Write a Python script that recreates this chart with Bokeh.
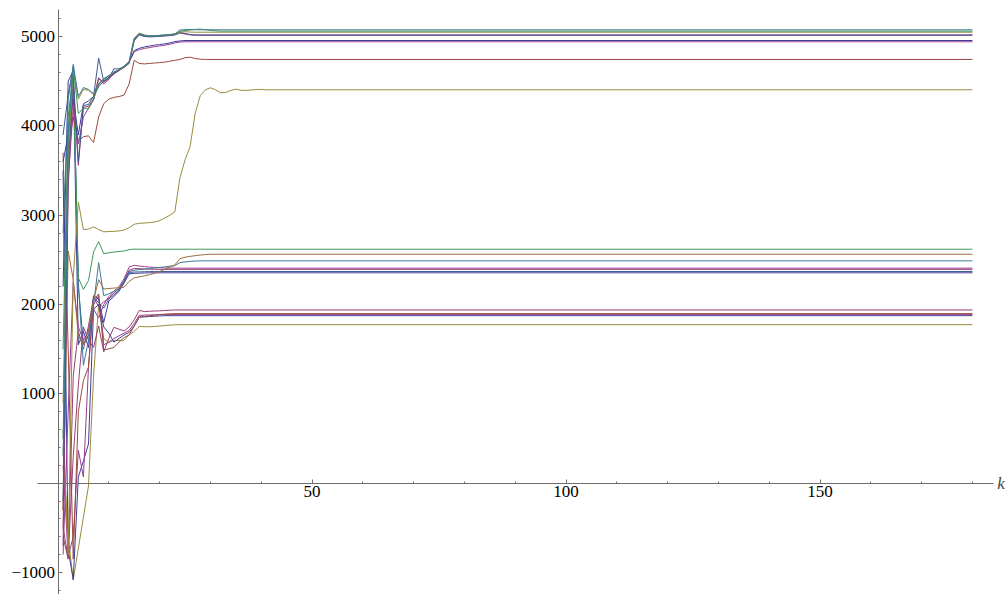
from bokeh.plotting import figure
from bokeh.models import FixedTicker, Label, Range1d
from bokeh.embed import file_html
from bokeh.resources import INLINE

# ---- data: values at k = 1, 2, 3, ... until the series is flat; held flat to K_LAST
K_LAST = 180

top_teal = [300, 3950, 4690, 4330, 4430, 4410, 4360, 4470, 4530, 4565, 4600, 4630, 4665, 4715, 4975,
            5030, 5012, 5008, 5010, 5014, 5018, 5022, 5030, 5075, 5078, 5080, 5078, 5077]
top_green = [500, 3850, 4670, 4140, 4200, 4190, 4300, 4460, 4520, 4560, 4598, 4628, 4660, 4712, 4970,
             5035, 5015, 5008, 5010, 5013, 5016, 5020, 5028, 5060, 5068, 5075, 5082, 5085, 5078, 5070,
             5065, 5062]
top_olive = [900, 3700, 4620, 4300, 4410, 4400, 4350, 4480, 4525, 4560, 4600, 4632, 4668, 4720, 4985,
             5040, 5020, 5010, 5012, 5015, 5020, 5025, 5032, 5050, 5055, 5052, 5050]
top_blue = [-200, 3500, 4550, 3600, 4230, 4240, 4330, 4760, 4500, 4540, 4640, 4640, 4665, 4705, 4960,
            5025, 5005, 5000, 5002, 5006, 5010, 5015, 5022, 5050, 5035, 5025, 5020]
top_purple = [-500, 3300, 4450, 3560, 4210, 4220, 4300, 4540, 4470, 4520, 4610, 4620, 4655, 4700, 4955,
              5020, 5002, 4998, 5000, 5004, 5008, 5012, 5020, 5040, 5030, 5020, 5015]
upper_navy = [3600, 3900, 4300, 3900, 4250, 4280, 4330, 4440, 4500, 4545, 4590, 4625, 4670, 4720, 4845,
              4870, 4885, 4895, 4905, 4912, 4920, 4930, 4945, 4952, 4957]
upper_violet = [-700, 3400, 4200, 3800, 4100, 4200, 4290, 4530, 4490, 4530, 4580, 4620, 4660, 4715, 4830,
                4855, 4868, 4878, 4888, 4896, 4905, 4915, 4930, 4940, 4943]
red_4745 = [-300, 3750, 4100, 3830, 3880, 3890, 3815, 4100, 4250, 4300, 4320, 4330, 4345, 4470, 4735,
            4700, 4695, 4700, 4705, 4710, 4715, 4725, 4735, 4745, 4765, 4770, 4755, 4748, 4745]
olive_4405 = [600, -800, 2300, 3150, 2840, 2845, 2870, 2840, 2815, 2818, 2820, 2825, 2835, 2860, 2900,
              2910, 2913, 2918, 2925, 2940, 2970, 3000, 3040, 3420, 3620, 3770, 4140, 4340, 4405, 4428,
              4405, 4372, 4375, 4398, 4412, 4400, 4398, 4403, 4407, 4410, 4405]

mid_green = [1500, 4100, 4600, 2300, 2170, 2270, 2590, 2705, 2570, 2580, 2588, 2595, 2600, 2615, 2622, 2620]
mid_brown = [-300, 2600, 2280, 1650, 1550, 1700, 2050, 2280, 2175, 2180, 2185, 2188, 2195, 2260, 2300,
             2310, 2322, 2335, 2350, 2370, 2395, 2420, 2445, 2515, 2530, 2540, 2548, 2555, 2560, 2564]
mid_teal = [2800, 4300, 4650, 2250, 1320, 1600, 2000, 2470, 2100, 2120, 2150, 2170, 2260, 2370, 2385,
            2392, 2398, 2404, 2410, 2416, 2422, 2430, 2436, 2470, 2478, 2484, 2488, 2490]
mid_purple = [-800, 800, 2250, 1750, 1600, 1700, 1950, 1850, 2000, 2090, 2150, 2200, 2290, 2420, 2440,
              2432, 2426, 2420, 2416, 2413, 2410, 2408]
mid_magenta = [-600, -850, 1200, 1700, 1500, 1760, 2080, 1980, 2030, 2070, 2130, 2180, 2270, 2385, 2405,
               2402, 2399, 2397, 2395]
mid_blue = [3900, 4350, 4660, 2200, 1560, 1650, 2080, 2020, 1960, 2060, 2110, 2160, 2250, 2360, 2365,
            2366, 2368, 2370, 2371]
mid_navy = [2200, 4500, 4620, 1550, 1700, 1520, 2100, 2060, 1800, 2040, 2090, 2150, 2240, 2345, 2350,
            2352, 2354, 2356]

low_magenta = [-500, -830, 300, 1100, 1750, 1600, 1520, 1760, 1470, 1620, 1745, 1725, 1705, 1750, 1830,
               1935, 1922, 1925, 1928, 1930, 1934, 1937, 1940]
low_red = [3700, 1500, -850, 800, 1150, 1300, 2050, 2120, 1490, 1505, 1520, 1580, 1630, 1660, 1760,
           1860, 1868, 1875, 1882, 1888, 1893, 1897, 1899]
low_purple = [200, -820, -600, 370, 70, 1300, 2000, 2100, 1550, 1580, 1620, 1650, 1680, 1710, 1790,
              1880, 1882, 1884, 1886, 1888]
low_navy = [3500, -750, -1080, 70, 250, 440, 1950, 2000, 1750, 1680, 1580, 1620, 1660, 1690, 1760,
            1860, 1862, 1866, 1870, 1873, 1876]
low_olive = [400, -600, -1082, -730, -380, -30, 1200, 2000, 1620, 1575, 1600, 1598, 1600, 1660, 1700,
             1755, 1752, 1752, 1755, 1760, 1765, 1770, 1773, 1775]

x_major = [50, 100, 150]
y_major = [-1000, 1000, 2000, 3000, 4000, 5000]

NAVY = "#3F3D99"
MAGENTA = "#993D71"
OLIVE = "#998B3D"
GREEN = "#3D9956"
BLUE = "#3D5A99"
PURPLE = "#993D8F"
BROWN = "#996D3D"
TEAL = "#3D7999"
RED = "#994A3D"

series = [
    (low_olive, OLIVE), (low_navy, NAVY), (low_purple, PURPLE), (low_red, RED), (low_magenta, MAGENTA),
    (mid_navy, NAVY), (mid_blue, BLUE), (mid_magenta, MAGENTA), (mid_purple, PURPLE),
    (mid_teal, TEAL), (mid_brown, BROWN), (mid_green, GREEN),
    (olive_4405, OLIVE), (red_4745, RED),
    (upper_violet, PURPLE), (upper_navy, NAVY),
    (top_purple, MAGENTA), (top_blue, BLUE), (top_olive, OLIVE), (top_green, GREEN), (top_teal, TEAL),
]

SERIF = "'Liberation Serif', 'Times New Roman', serif"

# ---- figure: the frame fills the whole canvas, axes cross at the origin
p = figure(width=1006, height=594, output_backend="svg", toolbar_location=None,
           x_range=Range1d(-11.32, 186.7), y_range=Range1d(-1246, 5405))
p.min_border = 0
p.min_border_left = 0
p.min_border_right = 0
p.min_border_top = 0
p.min_border_bottom = 0
p.outline_line_color = None
p.xgrid.visible = False
p.ygrid.visible = False
p.background_fill_color = "white"
p.border_fill_color = "white"

for vals, col in series:
    xs = list(range(1, len(vals) + 1)) + [K_LAST]
    ys = list(vals) + [vals[-1]]
    p.line(xs, ys, line_color=col, line_width=1.0)

for ax in (p.xaxis[0], p.yaxis[0]):
    ax.fixed_location = 0
    ax.axis_line_color = "#6e6e6e"
    ax.axis_line_width = 1
    ax.major_tick_line_color = "#6e6e6e"
    ax.minor_tick_line_color = "#6e6e6e"
    ax.major_tick_in = 4
    ax.major_tick_out = 0
    ax.minor_tick_in = 2
    ax.minor_tick_out = 0
    ax.major_label_text_font = SERIF
    ax.major_label_text_font_size = "17px"
    ax.major_label_text_color = "black"
    ax.major_label_standoff = 3

p.xaxis.bounds = (-4.04, 184.2)
p.yaxis.bounds = (-1246, 5308)
p.xaxis.ticker = FixedTicker(ticks=x_major, minor_ticks=list(range(10, 190, 10)))
p.yaxis.ticker = FixedTicker(ticks=y_major, minor_ticks=list(range(-1200, 5400, 200)))
p.yaxis.major_label_overrides = {-1000: "\u22121000"}

p.add_layout(Label(x=184.9, y=0, text="k",
                   text_font=SERIF, text_font_style="italic",
                   text_font_size="17px", text_baseline="middle", text_align="left"))

open("out.html", "w").write(file_html(p, INLINE))
